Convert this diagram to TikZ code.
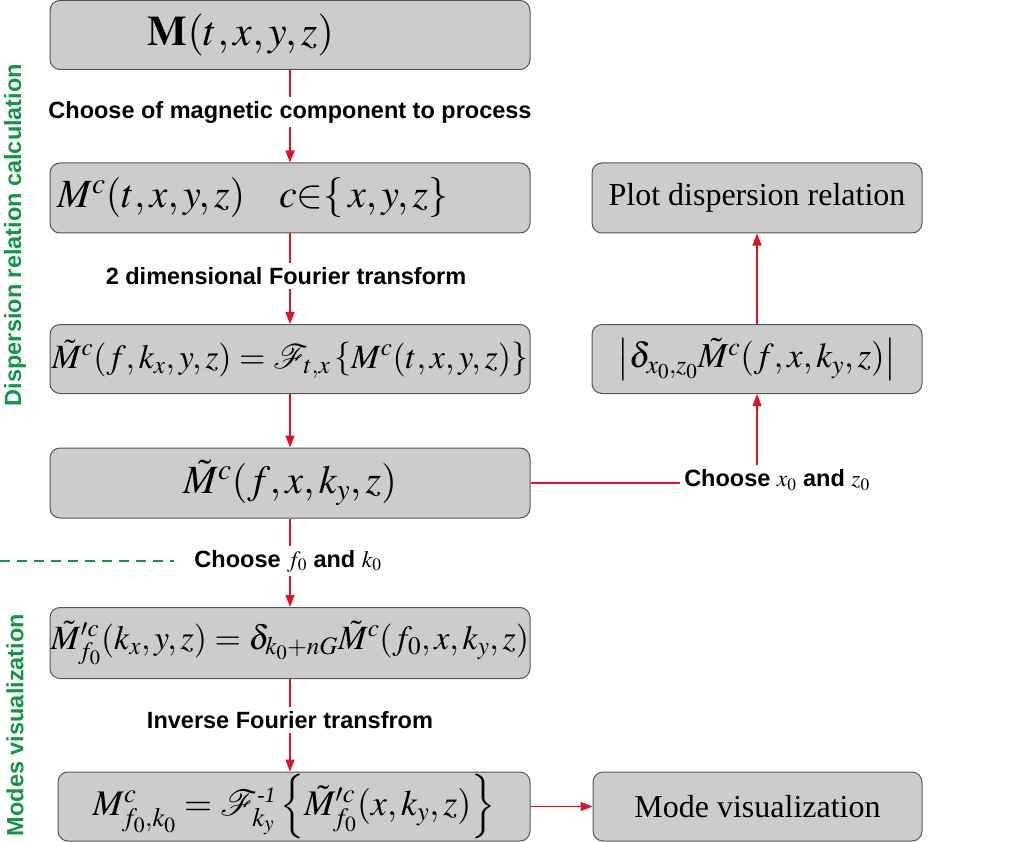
\documentclass[tikz,border=0pt]{standalone}
\usepackage{mathptmx}
\usepackage{fontspec}
\setmainfont{Liberation Serif}
\newfontfamily\labfont{Liberation Sans}
\usetikzlibrary{arrows.meta}
\definecolor{boxfill}{RGB}{204,204,204}
\definecolor{boxline}{RGB}{85,85,85}
\definecolor{arrred}{RGB}{222,20,38}
\definecolor{grn}{RGB}{20,150,70}
\newcommand{\minusone}{\hbox{\fontsize{22}{22}\selectfont\itshape -1}}
\tikzset{
  flowbox/.style={draw=boxline, fill=boxfill, rounded corners=10pt, line width=1pt, inner sep=0pt},
  lab/.style={font=\labfont\bfseries\fontsize{23.5}{27}\selectfont, inner sep=4pt, text=black},
  conn/.style={draw=arrred, line width=1.3pt},
  arr/.style={conn, -{Triangle[length=12pt,width=9pt]}},
  side/.style={font=\labfont\bfseries\fontsize{23.5}{27}\selectfont, text=grn, rotate=90, inner sep=0pt},
  gdash/.style={draw=grn, line width=1.3pt, dash pattern=on 10pt off 7pt},
}
\begin{document}
\begin{tikzpicture}[x=1pt,y=1pt]
\useasboundingbox (0,0) rectangle (1024,-842);
% left column boxes
\node[flowbox, minimum width=480, minimum height=69] (b1) at (290,-35) {};
\node[font=\fontsize{42}{46}\selectfont, inner sep=0pt] (t1) at (241,-35) {$\mathbf{M}(t,x,y,z)$};
\node[flowbox, minimum width=480, minimum height=70] (b2) at (290,-198) {};
\node[font=\fontsize{40}{44}\selectfont, inner sep=0pt, anchor=west] (t2) at (57,-198) {$M^c(t,x,y,z)\hspace{34pt} c{\in}\{\,x,y,z\}$};
\node[flowbox, minimum width=480, minimum height=69, font=\fontsize{34}{38}\selectfont] (b3) at (290,-359)
  {$\tilde M^c(f,k_x,y,z)=\mathcal{F}_{t,x}\left\{M^c(t,x,y,z)\right\}$};
\node[flowbox, minimum width=480, minimum height=70, font=\fontsize{40}{44}\selectfont] (b4) at (290,-483)
  {$\tilde M^c(f,x,k_y,z)$};
\node[flowbox, minimum width=480, minimum height=71, font=\fontsize{34}{38}\selectfont] (b5) at (290,-643)
  {$\tilde M^{\prime c}_{f_0}(k_x,y,z)=\delta_{k_0+nG}\tilde M^c(f_0,x,k_y,z)$};
\node[flowbox, minimum width=472, minimum height=69, font=\fontsize{36}{40}\selectfont] (b6) at (294,-806.5)
  {$M^c_{f_0,k_0}=\mathcal{F}^{\minusone}_{k_y}\left\{\tilde M^{\prime c}_{f_0}(x,k_y,z)\right\}$};
% right column boxes
\node[flowbox, minimum width=330, minimum height=70, font=\fontsize{32}{36}\selectfont] (pd) at (757,-198)
  {Plot dispersion relation};
\node[flowbox, minimum width=330, minimum height=69, font=\fontsize{35}{40}\selectfont] (dl) at (757,-359)
  {$\left|\delta_{x_0,z_0}\tilde M^c(f,x,k_y,z)\right|$};
\node[flowbox, minimum width=329, minimum height=69, font=\fontsize{32}{36}\selectfont] (mv) at (757.5,-806.5)
  {Mode visualization};
% labels
\node[lab] (l1) at (290,-112) {Choose of magnetic component to process};
\node[lab] (l2) at (286,-276) {2 dimensional Fourier transform};
\node[lab] (l3) at (288,-561) {Choose $f_0$ and $k_0$};
\node[lab] (l4) at (777,-480) {Choose $x_0$ and $z_0$};
\node[lab] (l5) at (290,-720) {Inverse Fourier transfrom};
% side titles
\node[side] (s1) at (15,-235) {Dispersion relation calculation};
\node[side] (s2) at (15,-725) {Modes visualization};
% connectors
\draw[conn] (b1.south) -- (b1.south |- l1.north);
\draw[arr] (b2.north |- l1.south) -- (b2.north);
\draw[conn] (b2.south) -- (b2.south |- l2.north);
\draw[arr] (b3.north |- l2.south) -- (b3.north);
\draw[arr] (b3.south) -- (b4.north);
\draw[conn] (b4.south) -- (b4.south |- l3.north);
\draw[arr] (b5.north |- l3.south) -- (b5.north);
\draw[conn] (b5.south) -- (b5.south |- l5.north);
\draw[arr] (b5.south |- l5.south) -- (b5.south |- b6.north);
\draw[conn] (b4.east) -- (b4.east -| l4.west);
\draw[arr] (l4.north -| dl.south) -- (dl.south);
\draw[arr] (dl.north) -- (pd.south);
\draw[arr] (b6.east) -- (b6.east -| mv.west);
\coordinate (gl) at (0,-561);
\draw[gdash] (gl) -- ([xshift=-16pt]l3.west);
\end{tikzpicture}
\end{document}
